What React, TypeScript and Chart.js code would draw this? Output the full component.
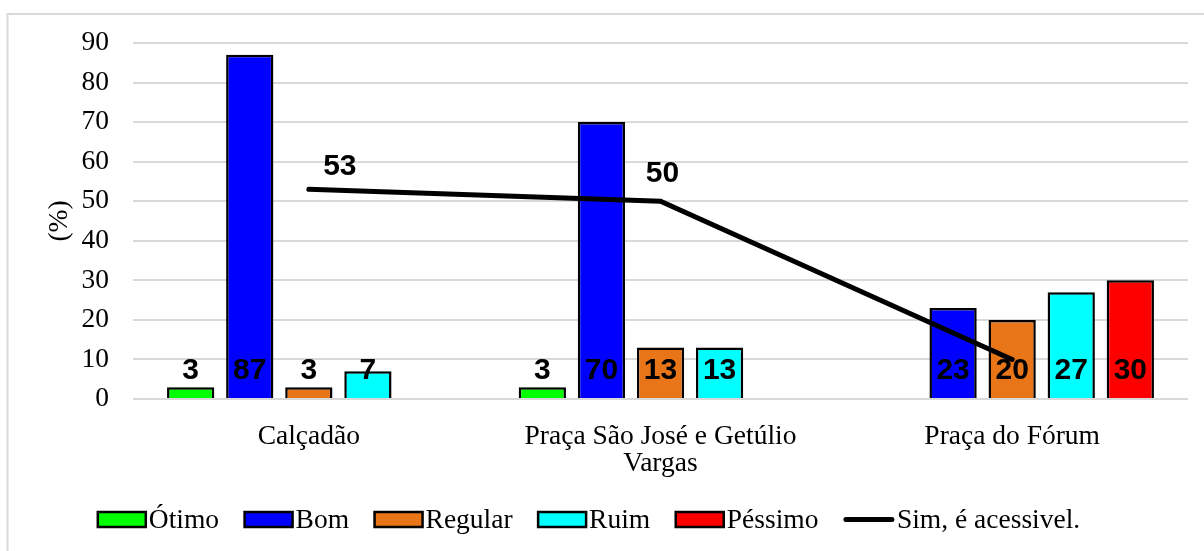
import React, { useEffect, useRef } from "react";
import { Chart, registerables } from "chart.js";

Chart.register(...registerables);

// ---- data ----
const categories: string[][] = [["Calçadão"], ["Praça São José e Getúlio", "Vargas"], ["Praça do Fórum"]];
const otimo: (number | null)[] = [3, 3, null];
const bom: (number | null)[] = [87, 70, 23];
const regular: (number | null)[] = [3, 13, 20];
const ruim: (number | null)[] = [7, 13, 27];
const pessimo: (number | null)[] = [null, null, 30];
const acessivel: number[] = [53, 50, 10];
const acessivelLabelShown: boolean[] = [true, true, false];
const yMin = 0;
const yMax = 90;
const yStep = 10;

const SERIF = '"Liberation Serif", "Times New Roman", serif';
const SANS = '"Liberation Sans", Arial, sans-serif';
const FS = 27.5;

const seriesColors = ["#00ff00", "#0000ff", "#e97519", "#00ffff", "#ff0000"];
const seriesNames = ["Ótimo", "Bom", "Regular", "Ruim", "Péssimo"];
const lineName = "Sim, é acessivel.";
const lineLabelOffsets = [
  [31, -23],
  [2, -27],
  [30, -22],
];

const borderPlugin = {
  id: "outerBorder",
  beforeDraw(chart: any) {
    const ctx = chart.ctx;
    ctx.save();
    ctx.fillStyle = "#ffffff";
    ctx.fillRect(0, 0, chart.width, chart.height);
    ctx.strokeStyle = "#d9d9d9";
    ctx.lineWidth = 2;
    ctx.strokeRect(7.5, 14, chart.width + 20, chart.height + 20);
    ctx.restore();
  },
};

const labelPlugin = {
  id: "valueLabels",
  afterDatasetsDraw(chart: any) {
    const ctx = chart.ctx;
    const yScale = chart.scales.y;
    const base = yScale.getPixelForValue(0);
    ctx.save();
    ctx.fillStyle = "#000";
    ctx.font = `bold 30px ${SANS}`;
    ctx.textAlign = "center";
    ctx.textBaseline = "middle";
    chart.data.datasets.forEach((ds: any, di: number) => {
      const meta = chart.getDatasetMeta(di);
      if (ds.type === "line") {
        meta.data.forEach((pt: any, i: number) => {
          if (!acessivelLabelShown[i]) return;
          const off = lineLabelOffsets[i];
          ctx.fillText(String(ds.data[i]), pt.x + off[0], pt.y + off[1]);
        });
      } else {
        meta.data.forEach((el: any, i: number) => {
          const v = ds.data[i];
          if (v === null || v === undefined) return;
          ctx.fillText(String(v), el.x, base - 28);
        });
      }
    });
    ctx.restore();
  },
};

const legendPlugin = {
  id: "customLegend",
  afterDraw(chart: any) {
    const ctx = chart.ctx;
    ctx.save();
    ctx.font = `${FS}px ${SERIF}`;
    const boxW = 48;
    const boxH = 15;
    const gap = 3;
    const spacing = 25.5;
    const items = [
      ...seriesNames.map((n, i) => ({ label: n, color: seriesColors[i], kind: "box" })),
      { label: lineName, color: "#000", kind: "line" },
    ];
    const widths = items.map((it) => (it.kind === "box" ? boxW : 50) + gap + ctx.measureText(it.label).width);
    const total = widths.reduce((a, b) => a + b, 0) + spacing * (items.length - 1);
    let x = 589 - total / 2;
    const cy = 519.5;
    ctx.textBaseline = "middle";
    ctx.textAlign = "left";
    items.forEach((it, i) => {
      if (it.kind === "box") {
        ctx.fillStyle = it.color;
        ctx.fillRect(x, cy - boxH / 2, boxW, boxH);
        ctx.strokeStyle = "#000";
        ctx.lineWidth = 2.5;
        ctx.strokeRect(x, cy - boxH / 2, boxW, boxH);
        ctx.fillStyle = "#000";
        ctx.fillText(it.label, x + boxW + gap, cy + 1);
      } else {
        ctx.strokeStyle = "#000";
        ctx.lineWidth = 5;
        ctx.lineCap = "round";
        ctx.beginPath();
        ctx.moveTo(x + 2, cy);
        ctx.lineTo(x + 48, cy);
        ctx.stroke();
        ctx.fillStyle = "#000";
        ctx.fillText(it.label, x + 50 + gap, cy + 1);
      }
      x += widths[i] + spacing;
    });
    ctx.restore();
  },
};

export default function App() {
  const canvasRef = useRef<HTMLCanvasElement | null>(null);

  useEffect(() => {
    document.body.style.margin = "0";
    const canvas = canvasRef.current;
    if (!canvas) return;
    const barSets = [otimo, bom, regular, ruim, pessimo].map((d, i) => ({
      type: "bar" as const,
      label: seriesNames[i],
      data: d,
      backgroundColor: seriesColors[i],
      borderColor: "#000",
      borderWidth: 2.5,
      categoryPercentage: 0.84,
      barPercentage: 0.8,
      order: 2,
    }));
    const chart = new Chart(canvas, {
      data: {
        labels: categories,
        datasets: [
          ...barSets,
          {
            type: "line" as const,
            label: lineName,
            data: acessivel,
            borderColor: "#000",
            borderWidth: 5,
            borderCapStyle: "round",
            pointRadius: 0,
            fill: false,
            tension: 0,
            order: 0,
          } as any,
        ],
      } as any,
      options: {
        responsive: false,
        animation: false,
        layout: { padding: { left: 0, right: 16, top: 43, bottom: 72 } },
        plugins: {
          legend: { display: false },
          tooltip: { enabled: false },
        },
        scales: {
          x: {
            offset: true,
            grid: { display: false },
            border: { display: false },
            ticks: {
              color: "#000",
              font: { family: SERIF, size: FS, lineHeight: 1.0 },
              padding: 16,
              maxRotation: 0,
              autoSkip: false,
            },
            afterFit: (s: any) => {
              s.height = 80;
            },
          },
          y: {
            min: yMin,
            max: yMax,
            ticks: {
              stepSize: yStep,
              color: "#000",
              font: { family: SERIF, size: FS },
              padding: 24,
            },
            grid: { color: "#d9d9d9", lineWidth: 2, drawTicks: false },
            border: { display: false },
            title: {
              display: true,
              text: "(%)",
              color: "#000",
              font: { family: SERIF, size: FS },
              padding: { top: 43, bottom: 0 },
            },
            afterFit: (s: any) => {
              s.width = 133;
            },
          },
        },
      } as any,
      plugins: [borderPlugin, labelPlugin, legendPlugin],
    });
    return () => chart.destroy();
  }, []);

  return (
    <div style={{ position: "absolute", left: 0, top: 0, width: 1204, height: 551 }}>
      <canvas ref={canvasRef} width={1204} height={551} style={{ display: "block" }} />
    </div>
  );
}
